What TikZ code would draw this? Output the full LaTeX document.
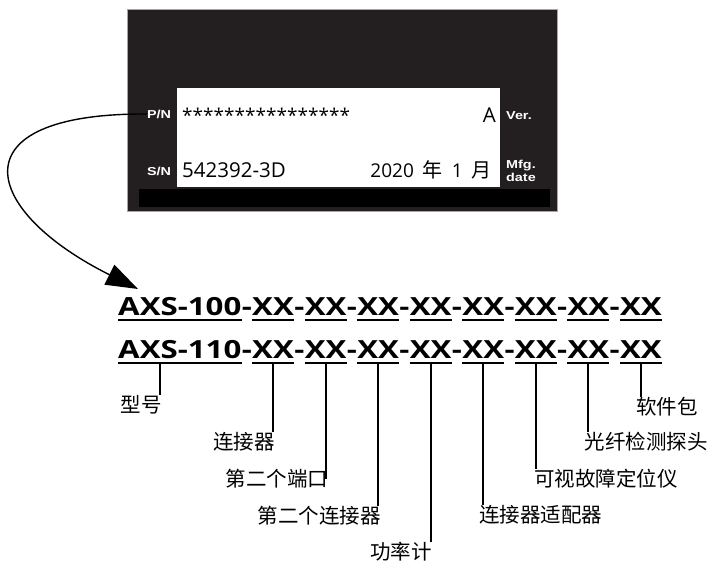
\documentclass[tikz,border=0pt]{standalone}
\usepackage{fontspec}
\setmainfont{Open Sans}
\newfontfamily\cjk{Noto Sans CJK SC}
\newfontfamily\tagfont{Liberation Sans}[FakeStretch=1.25]
\newfontfamily\pnfont{Open Sans}[FakeStretch=1.25]
\usetikzlibrary{calc, positioning}
\usetikzlibrary{arrows.meta}
\definecolor{plategrey}{HTML}{231F20}

\begin{document}
\begin{tikzpicture}[x=1pt,y=-1pt,
    tag/.style={text=white,inner sep=0pt,font=\tagfont\bfseries\fontsize{11.5}{13.5}\selectfont},
    entry/.style={inner sep=0pt,font=\fontsize{20.5}{22}\selectfont},
    pn/.style={inner sep=0pt,anchor=base west,font=\pnfont\bfseries\fontsize{25}{28}\selectfont},
    part/.style={inner sep=0pt,font=\cjk\fontsize{20.5}{23}\selectfont},
    ul/.style={line width=2.5pt},
    leader/.style={line width=2pt}]
\useasboundingbox (0,0) rectangle (709,562);

% the label plate
\draw[fill=plategrey,draw=black!35,line width=0.6pt] (127,9) rectangle (557,211);
\fill[white] (177,88) rectangle (500,187);
\fill[black] (139,189) rectangle (550,207);

\node[tag] (PN) at (159,114) {P/N};
\node[tag] (SN) at (159,171) {S/N};
\node[tag,anchor=west] (Ver) at (506,116) {Ver.};
\node[tag,anchor=west,align=left] (Mfg) at (506,171) {Mfg.\\date};

\node[entry,anchor=base west,font=\fontsize{19}{20}\selectfont] (Stars) at (182,122) {****************};
\node[entry,anchor=base east] (Rev) at (496,122) {A};
\node[entry,anchor=base west] (Serial) at (182,177) {542392-3D};
\node[entry,anchor=base east,font=\fontsize{19}{20}\selectfont] (Date) at (492,177)
    {2020\hspace{9pt}{\cjk\fontsize{20}{22}\selectfont 年}\hspace{9pt}1\hspace{9pt}{\cjk\fontsize{20}{22}\selectfont 月}};

% part numbers
\foreach \row/\model/\by in {A/AXS-100/315,B/AXS-110/358}{
  \node[pn] (\row0) at (118,\by) {\model};
  \foreach \k [remember=\k as \j (initially 0)] in {1,...,8}{
    \node[pn] (\row h\k) at (\row\j.base east) {-};
    \node[pn] (\row\k) at (\row h\k.base east) {XX};
  }
  \foreach \k in {0,...,8}
    \draw[ul] ($(\row\k.base west)+(0,5)$) -- ($(\row\k.base east)+(0,5)$);
}

\coordinate (PNTip) at (138,289);
\draw[line width=1.4pt,-{Triangle[length=32pt,width=22pt]}]
    (PN.west) .. controls (-45,113) and (-20,210) .. (PNTip);

% what each field means
\node[part,anchor=north east] (Model) at ($(B0.base west)+(44,37)$) {型号};
\draw[leader] ($(B0.base west)+(42,5)$) -- ($(B0.base west)+(42,37)$);

\foreach \k/\txt/\side/\dx/\dy/\stop in {
    1/连接器/north east/2/74/north,
    2/第二个端口/north east/3/111/east,
    3/第二个连接器/north east/3/148/north,
    4/功率计/north east/1/184/north,
    5/连接器适配器/north west/-4/147/north,
    6/可视故障定位仪/north west/-2/111/north,
    7/光纤检测探头/north west/-4/74/north,
    8/软件包/north west/-5/39/north}{
  \node[part,anchor=\side] (L\k) at ($(B\k.base)+(\dx,\dy)$) {\txt};
  \draw[leader] ($(B\k.base)+(0,5)$) -- (B\k.base |- L\k.\stop);
}
\end{tikzpicture}
\end{document}
